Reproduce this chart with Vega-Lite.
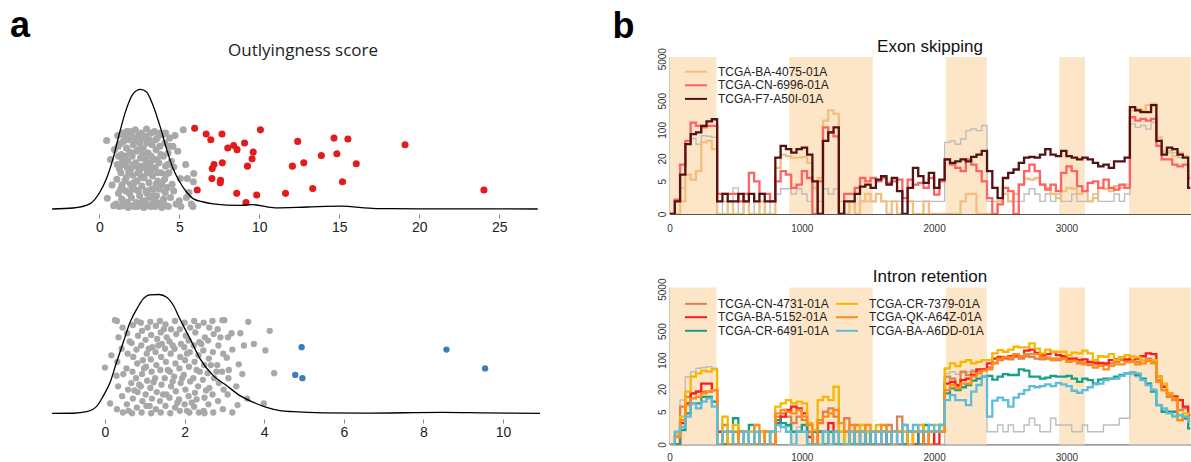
{
"$schema":"https://vega.github.io/schema/vega-lite/v6.json",
"background":"white",
"padding":{"left":10,"top":8,"right":0,"bottom":0},
"config":{"view":{"stroke":null},"font":"Liberation Sans"},
"resolve":{"scale":{"color":"independent"},"legend":{"color":"independent"}},
"spacing":54.5,
"datasets":{
"tlp":[
{"v":0.46,"j":0.89,"g":"n"},{"v":0.5,"j":0.19,"g":"n"},{"v":0.7,"j":0.66,"g":"n"},{"v":0.8,"j":0.35,"g":"n"},{"v":0.9,"j":0.1,"g":"n"},{"v":0.95,"j":0.78,"g":"n"},
{"v":1.05,"j":0.12,"g":"n"},{"v":1.1,"j":0.42,"g":"n"},{"v":1.15,"j":0.95,"g":"n"},{"v":1.12,"j":0.6,"g":"n"},{"v":1.2,"j":0.25,"g":"n"},{"v":1.18,"j":0.82,"g":"n"},{"v":1.25,"j":0.09,"g":"n"},
{"v":1.35,"j":0.5,"g":"n"},{"v":1.4,"j":0.18,"g":"n"},{"v":1.38,"j":0.72,"g":"n"},{"v":1.45,"j":0.98,"g":"n"},{"v":1.42,"j":0.35,"g":"n"},{"v":1.5,"j":0.88,"g":"n"},{"v":1.48,"j":0.1,"g":"n"},{"v":1.52,"j":0.6,"g":"n"},
{"v":1.65,"j":0.28,"g":"n"},{"v":1.7,"j":0.8,"g":"n"},{"v":1.68,"j":0.44,"g":"n"},{"v":1.72,"j":1.0,"g":"n"},{"v":1.75,"j":0.14,"g":"n"},{"v":1.78,"j":0.64,"g":"n"},{"v":1.8,"j":0.08,"g":"n"},{"v":1.82,"j":0.9,"g":"n"},
{"v":1.95,"j":0.36,"g":"n"},{"v":1.98,"j":0.55,"g":"n"},{"v":2.0,"j":0.2,"g":"n"},{"v":2.02,"j":0.95,"g":"n"},{"v":2.05,"j":0.7,"g":"n"},{"v":2.08,"j":0.1,"g":"n"},{"v":2.1,"j":0.47,"g":"n"},{"v":2.12,"j":0.84,"g":"n"},
{"v":2.2,"j":0.3,"g":"n"},{"v":2.25,"j":1.02,"g":"n"},{"v":2.28,"j":0.62,"g":"n"},{"v":2.3,"j":0.14,"g":"n"},{"v":2.32,"j":0.76,"g":"n"},{"v":2.35,"j":0.4,"g":"n"},{"v":2.38,"j":0.92,"g":"n"},{"v":2.4,"j":0.09,"g":"n"},
{"v":2.5,"j":0.52,"g":"n"},{"v":2.52,"j":0.22,"g":"n"},{"v":2.55,"j":0.86,"g":"n"},{"v":2.58,"j":0.68,"g":"n"},{"v":2.6,"j":0.12,"g":"n"},{"v":2.62,"j":0.98,"g":"n"},{"v":2.65,"j":0.34,"g":"n"},{"v":2.68,"j":0.58,"g":"n"},
{"v":2.75,"j":0.8,"g":"n"},{"v":2.78,"j":0.08,"g":"n"},{"v":2.8,"j":0.44,"g":"n"},{"v":2.85,"j":0.16,"g":"n"},{"v":2.88,"j":0.94,"g":"n"},{"v":2.9,"j":0.66,"g":"n"},{"v":2.92,"j":0.28,"g":"n"},{"v":2.95,"j":1.03,"g":"n"},
{"v":3.0,"j":0.5,"g":"n"},{"v":3.02,"j":0.1,"g":"n"},{"v":3.05,"j":0.74,"g":"n"},{"v":3.1,"j":0.38,"g":"n"},{"v":3.12,"j":0.9,"g":"n"},{"v":3.15,"j":0.2,"g":"n"},{"v":3.18,"j":0.6,"g":"n"},{"v":3.2,"j":0.98,"g":"n"},
{"v":3.28,"j":0.12,"g":"n"},{"v":3.3,"j":0.84,"g":"n"},{"v":3.32,"j":0.46,"g":"n"},{"v":3.38,"j":0.66,"g":"n"},{"v":3.4,"j":0.3,"g":"n"},{"v":3.45,"j":1.0,"g":"n"},{"v":3.48,"j":0.09,"g":"n"},{"v":3.5,"j":0.56,"g":"n"},
{"v":3.55,"j":0.78,"g":"n"},{"v":3.58,"j":0.22,"g":"n"},{"v":3.62,"j":0.92,"g":"n"},{"v":3.65,"j":0.4,"g":"n"},{"v":3.7,"j":0.11,"g":"n"},{"v":3.72,"j":0.62,"g":"n"},{"v":3.78,"j":0.82,"g":"n"},{"v":3.8,"j":0.3,"g":"n"},
{"v":3.85,"j":0.5,"g":"n"},{"v":3.9,"j":0.08,"g":"n"},{"v":3.95,"j":0.96,"g":"n"},{"v":4.0,"j":0.7,"g":"n"},{"v":4.02,"j":0.18,"g":"n"},{"v":4.08,"j":0.42,"g":"n"},{"v":4.1,"j":0.86,"g":"n"},{"v":4.15,"j":0.58,"g":"n"},
{"v":4.2,"j":0.1,"g":"n"},{"v":4.25,"j":0.32,"g":"n"},{"v":4.3,"j":0.74,"g":"n"},{"v":4.35,"j":0.5,"g":"n"},{"v":4.4,"j":0.92,"g":"n"},{"v":4.45,"j":0.2,"g":"n"},{"v":4.5,"j":0.64,"g":"n"},
{"v":4.65,"j":0.57,"g":"n"},{"v":4.73,"j":0.95,"g":"n"},{"v":4.65,"j":0.28,"g":"n"},{"v":4.8,"j":0.12,"g":"n"},{"v":5.0,"j":0.16,"g":"n"},{"v":5.07,"j":0.43,"g":"n"},{"v":4.9,"j":0.76,"g":"n"},{"v":5.25,"j":1.02,"g":"n"},{"v":5.1,"j":0.09,"g":"n"},
{"v":5.5,"j":0.43,"g":"n"},{"v":5.6,"j":0.26,"g":"n"},{"v":5.45,"j":0.2,"g":"n"},{"v":5.9,"j":0.49,"g":"n"},{"v":5.88,"j":0.39,"g":"n"},{"v":5.75,"j":0.12,"g":"n"},{"v":5.4,"j":0.6,"g":"n"},{"v":5.85,"j":0.09,"g":"n"},
{"v":1.25,"j":0.55,"g":"n"},{"v":1.3,"j":0.85,"g":"n"},{"v":1.33,"j":0.3,"g":"n"},{"v":1.55,"j":0.15,"g":"n"},{"v":1.6,"j":0.4,"g":"n"},{"v":1.58,"j":0.94,"g":"n"},{"v":1.62,"j":0.7,"g":"n"},{"v":1.85,"j":0.5,"g":"n"},{"v":1.88,"j":0.25,"g":"n"},{"v":1.9,"j":0.75,"g":"n"},{"v":1.92,"j":1.0,"g":"n"},{"v":2.15,"j":0.6,"g":"n"},{"v":2.18,"j":0.09,"g":"n"},{"v":2.18,"j":0.38,"g":"n"},{"v":2.22,"j":0.88,"g":"n"},{"v":2.42,"j":0.5,"g":"n"},{"v":2.44,"j":0.28,"g":"n"},{"v":2.46,"j":0.78,"g":"n"},{"v":2.48,"j":0.96,"g":"n"},{"v":2.7,"j":0.15,"g":"n"},{"v":2.7,"j":0.44,"g":"n"},{"v":2.72,"j":0.72,"g":"n"},{"v":2.72,"j":0.92,"g":"n"},{"v":2.98,"j":0.25,"g":"n"},{"v":2.98,"j":0.62,"g":"n"},{"v":3.0,"j":0.86,"g":"n"},{"v":3.25,"j":0.5,"g":"n"},{"v":3.25,"j":0.3,"g":"n"},{"v":3.24,"j":0.7,"g":"n"},{"v":3.22,"j":0.09,"g":"n"},{"v":3.52,"j":0.15,"g":"n"},{"v":3.55,"j":0.36,"g":"n"},{"v":3.52,"j":0.9,"g":"n"},{"v":3.6,"j":0.66,"g":"n"},{"v":3.82,"j":0.98,"g":"n"},{"v":3.85,"j":0.72,"g":"n"},{"v":3.88,"j":0.14,"g":"n"},{"v":3.9,"j":0.36,"g":"n"},{"v":4.12,"j":0.26,"g":"n"},{"v":4.14,"j":0.98,"g":"n"},{"v":4.18,"j":0.48,"g":"n"},{"v":4.05,"j":0.1,"g":"n"},{"v":2.05,"j":0.32,"g":"n"},{"v":2.35,"j":0.58,"g":"n"},{"v":2.6,"j":0.46,"g":"n"},{"v":2.82,"j":0.56,"g":"n"},{"v":3.08,"j":0.56,"g":"n"},{"v":3.35,"j":0.22,"g":"n"},{"v":3.68,"j":0.5,"g":"n"},{"v":1.75,"j":0.56,"g":"n"},{"v":1.45,"j":0.65,"g":"n"},{"v":1.2,"j":0.7,"g":"n"},{"v":4.32,"j":0.09,"g":"n"},{"v":4.38,"j":0.82,"g":"n"},{"v":4.55,"j":0.36,"g":"n"},{"v":4.6,"j":0.82,"g":"n"},{"v":4.28,"j":0.6,"g":"n"},
{"v":5.96,"j":1.04,"g":"o"},{"v":6.68,"j":0.97,"g":"o"},{"v":6.97,"j":0.9,"g":"o"},{"v":7.67,"j":0.97,"g":"o"},{"v":10.07,"j":1.02,"g":"o"},{"v":8.03,"j":0.8,"g":"o"},{"v":8.4,"j":0.83,"g":"o"},{"v":8.61,"j":0.78,"g":"o"},{"v":9.08,"j":0.86,"g":"o"},{"v":9.62,"j":0.75,"g":"o"},{"v":9.55,"j":0.67,"g":"o"},{"v":9.26,"j":0.58,"g":"o"},{"v":7.69,"j":0.62,"g":"o"},{"v":7.17,"j":0.6,"g":"o"},{"v":7.06,"j":0.55,"g":"o"},{"v":7.04,"j":0.43,"g":"o"},{"v":7.58,"j":0.41,"g":"o"},{"v":7.56,"j":0.38,"g":"o"},{"v":6.12,"j":0.29,"g":"o"},{"v":8.59,"j":0.25,"g":"o"},{"v":9.84,"j":0.23,"g":"o"},{"v":9.17,"j":0.14,"g":"o"},{"v":11.64,"j":0.25,"g":"o"},{"v":12.4,"j":0.88,"g":"o"},{"v":12.07,"j":0.58,"g":"o"},{"v":12.78,"j":0.62,"g":"o"},{"v":13.34,"j":0.31,"g":"o"},{"v":13.88,"j":0.71,"g":"o"},{"v":14.67,"j":0.92,"g":"o"},{"v":14.85,"j":0.73,"g":"o"},{"v":15.54,"j":0.91,"g":"o"},{"v":15.2,"j":0.39,"g":"o"},{"v":16.06,"j":0.61,"g":"o"},{"v":19.11,"j":0.84,"g":"o"},{"v":24.04,"j":0.29,"g":"o"}
],
"tld":[{"v":-2.95,"d":0},{"v":-1.64,"d":0.0025},{"v":-0.59,"d":0.013},{"v":0.04,"d":0.0425},{"v":0.45,"d":0.076},{"v":0.86,"d":0.126},{"v":1.28,"d":0.1925},{"v":1.7,"d":0.251},{"v":2.11,"d":0.288},{"v":2.58,"d":0.299},{"v":2.95,"d":0.2925},{"v":3.36,"d":0.259},{"v":3.78,"d":0.209},{"v":4.2,"d":0.151},{"v":4.61,"d":0.101},{"v":5.03,"d":0.0675},{"v":5.45,"d":0.0425},{"v":5.86,"d":0.026},{"v":6.5,"d":0.0175},{"v":7.1,"d":0.013},{"v":8.8,"d":0.009},{"v":9.5,"d":0.011},{"v":11,"d":0.003},{"v":13,"d":0.005},{"v":15.1,"d":0.007},{"v":17.3,"d":0.001},{"v":20,"d":0.0005},{"v":27.4,"d":0}],
"blp":[
{"v":0.3,"j":0.12,"g":"n"},{"v":0.33,"j":0.4,"g":"n"},{"v":0.31,"j":0.7,"g":"n"},{"v":0.34,"j":1.0,"g":"n"},{"v":0.3,"j":1.2,"g":"n"},
{"v":0.45,"j":0.08,"g":"n"},{"v":0.43,"j":0.28,"g":"n"},{"v":0.46,"j":0.55,"g":"n"},{"v":0.42,"j":0.86,"g":"n"},{"v":0.44,"j":1.12,"g":"n"},
{"v":0.55,"j":0.18,"g":"n"},{"v":0.58,"j":0.36,"g":"n"},{"v":0.54,"j":0.62,"g":"n"},{"v":0.57,"j":0.8,"g":"n"},{"v":0.56,"j":1.05,"g":"n"},{"v":0.59,"j":0.1,"g":"n"},
{"v":0.68,"j":0.07,"g":"n"},{"v":0.7,"j":0.25,"g":"n"},{"v":0.66,"j":0.44,"g":"n"},{"v":0.69,"j":0.58,"g":"n"},{"v":0.71,"j":0.76,"g":"n"},{"v":0.67,"j":0.93,"g":"n"},{"v":0.7,"j":1.15,"g":"n"},
{"v":0.8,"j":0.14,"g":"n"},{"v":0.82,"j":0.33,"g":"n"},{"v":0.78,"j":0.5,"g":"n"},{"v":0.81,"j":0.68,"g":"n"},{"v":0.79,"j":0.85,"g":"n"},{"v":0.83,"j":1.02,"g":"n"},{"v":0.8,"j":1.2,"g":"n"},
{"v":0.92,"j":0.08,"g":"n"},{"v":0.94,"j":0.22,"g":"n"},{"v":0.9,"j":0.4,"g":"n"},{"v":0.93,"j":0.55,"g":"n"},{"v":0.95,"j":0.72,"g":"n"},{"v":0.91,"j":0.9,"g":"n"},{"v":0.93,"j":1.08,"g":"n"},{"v":0.9,"j":1.18,"g":"n"},
{"v":1.04,"j":0.16,"g":"n"},{"v":1.02,"j":0.3,"g":"n"},{"v":1.06,"j":0.47,"g":"n"},{"v":1.03,"j":0.64,"g":"n"},{"v":1.05,"j":0.8,"g":"n"},{"v":1.02,"j":0.97,"g":"n"},{"v":1.07,"j":1.12,"g":"n"},
{"v":1.16,"j":0.07,"g":"n"},{"v":1.18,"j":0.25,"g":"n"},{"v":1.14,"j":0.38,"g":"n"},{"v":1.17,"j":0.58,"g":"n"},{"v":1.15,"j":0.73,"g":"n"},{"v":1.19,"j":0.88,"g":"n"},{"v":1.16,"j":1.03,"g":"n"},{"v":1.14,"j":1.19,"g":"n"},
{"v":1.28,"j":0.12,"g":"n"},{"v":1.3,"j":0.33,"g":"n"},{"v":1.26,"j":0.5,"g":"n"},{"v":1.29,"j":0.66,"g":"n"},{"v":1.27,"j":0.82,"g":"n"},{"v":1.31,"j":0.98,"g":"n"},{"v":1.28,"j":1.14,"g":"n"},
{"v":1.4,"j":0.08,"g":"n"},{"v":1.38,"j":0.22,"g":"n"},{"v":1.42,"j":0.42,"g":"n"},{"v":1.39,"j":0.6,"g":"n"},{"v":1.41,"j":0.76,"g":"n"},{"v":1.43,"j":0.92,"g":"n"},{"v":1.4,"j":1.06,"g":"n"},{"v":1.38,"j":1.2,"g":"n"},
{"v":1.52,"j":0.16,"g":"n"},{"v":1.54,"j":0.3,"g":"n"},{"v":1.5,"j":0.5,"g":"n"},{"v":1.53,"j":0.7,"g":"n"},{"v":1.51,"j":0.86,"g":"n"},{"v":1.55,"j":1.0,"g":"n"},{"v":1.52,"j":1.16,"g":"n"},
{"v":1.64,"j":0.07,"g":"n"},{"v":1.62,"j":0.26,"g":"n"},{"v":1.66,"j":0.4,"g":"n"},{"v":1.63,"j":0.58,"g":"n"},{"v":1.65,"j":0.8,"g":"n"},{"v":1.62,"j":0.95,"g":"n"},{"v":1.66,"j":1.1,"g":"n"},
{"v":1.76,"j":0.14,"g":"n"},{"v":1.78,"j":0.34,"g":"n"},{"v":1.74,"j":0.52,"g":"n"},{"v":1.77,"j":0.68,"g":"n"},{"v":1.75,"j":0.86,"g":"n"},{"v":1.79,"j":1.04,"g":"n"},{"v":1.76,"j":1.2,"g":"n"},
{"v":1.88,"j":0.1,"g":"n"},{"v":1.86,"j":0.24,"g":"n"},{"v":1.9,"j":0.44,"g":"n"},{"v":1.87,"j":0.62,"g":"n"},{"v":1.89,"j":0.76,"g":"n"},{"v":1.91,"j":0.92,"g":"n"},{"v":1.88,"j":1.1,"g":"n"},
{"v":2.0,"j":0.18,"g":"n"},{"v":2.02,"j":0.36,"g":"n"},{"v":1.98,"j":0.54,"g":"n"},{"v":2.01,"j":0.72,"g":"n"},{"v":1.99,"j":0.88,"g":"n"},{"v":2.03,"j":1.02,"g":"n"},{"v":2.0,"j":1.18,"g":"n"},
{"v":2.12,"j":0.08,"g":"n"},{"v":2.1,"j":0.28,"g":"n"},{"v":2.14,"j":0.46,"g":"n"},{"v":2.11,"j":0.64,"g":"n"},{"v":2.13,"j":0.82,"g":"n"},{"v":2.1,"j":0.96,"g":"n"},{"v":2.14,"j":1.12,"g":"n"},
{"v":2.24,"j":0.15,"g":"n"},{"v":2.26,"j":0.32,"g":"n"},{"v":2.22,"j":0.5,"g":"n"},{"v":2.25,"j":0.7,"g":"n"},{"v":2.23,"j":0.9,"g":"n"},{"v":2.27,"j":1.06,"g":"n"},{"v":2.24,"j":1.2,"g":"n"},
{"v":2.36,"j":0.08,"g":"n"},{"v":2.34,"j":0.4,"g":"n"},{"v":2.38,"j":0.58,"g":"n"},{"v":2.35,"j":0.78,"g":"n"},{"v":2.37,"j":0.94,"g":"n"},{"v":2.34,"j":1.14,"g":"n"},
{"v":2.48,"j":0.1,"g":"n"},{"v":2.5,"j":0.26,"g":"n"},{"v":2.46,"j":0.48,"g":"n"},{"v":2.49,"j":0.66,"g":"n"},{"v":2.47,"j":0.84,"g":"n"},{"v":2.51,"j":1.0,"g":"n"},{"v":2.48,"j":1.18,"g":"n"},
{"v":2.6,"j":0.18,"g":"n"},{"v":2.62,"j":0.38,"g":"n"},{"v":2.58,"j":0.56,"g":"n"},{"v":2.61,"j":0.74,"g":"n"},{"v":2.59,"j":0.96,"g":"n"},{"v":2.62,"j":1.12,"g":"n"},
{"v":2.72,"j":0.08,"g":"n"},{"v":2.7,"j":0.3,"g":"n"},{"v":2.74,"j":0.5,"g":"n"},{"v":2.71,"j":0.82,"g":"n"},{"v":2.73,"j":1.04,"g":"n"},{"v":2.7,"j":1.2,"g":"n"},
{"v":2.84,"j":0.22,"g":"n"},{"v":2.86,"j":0.44,"g":"n"},{"v":2.82,"j":0.66,"g":"n"},{"v":2.85,"j":0.9,"g":"n"},{"v":2.83,"j":1.1,"g":"n"},
{"v":2.96,"j":0.12,"g":"n"},{"v":2.98,"j":0.36,"g":"n"},{"v":2.94,"j":0.58,"g":"n"},{"v":2.97,"j":0.8,"g":"n"},{"v":2.95,"j":1.21,"g":"n"},
{"v":3.08,"j":0.3,"g":"n"},{"v":3.1,"j":0.5,"g":"n"},{"v":3.06,"j":0.75,"g":"n"},{"v":3.09,"j":1.0,"g":"n"},
{"v":0.0,"j":0.63,"g":"n"},{"v":0.13,"j":0.19,"g":"n"},{"v":0.16,"j":0.78,"g":"n"},{"v":0.25,"j":1.21,"g":"n"},{"v":0.29,"j":0.53,"g":"n"},{"v":3.0,"j":1.21,"g":"n"},{"v":3.18,"j":1.05,"g":"n"},{"v":3.4,"j":1.05,"g":"n"},{"v":3.6,"j":1.19,"g":"n"},{"v":4.14,"j":1.08,"g":"n"},{"v":3.49,"j":0.9,"g":"n"},{"v":3.74,"j":0.92,"g":"n"},{"v":4.03,"j":0.84,"g":"n"},{"v":4.25,"j":0.56,"g":"n"},{"v":3.36,"j":0.67,"g":"n"},{"v":3.11,"j":0.6,"g":"n"},{"v":3.57,"j":0.25,"g":"n"},{"v":3.99,"j":0.19,"g":"n"},{"v":3.33,"j":0.17,"g":"n"},{"v":3.2,"j":0.08,"g":"n"},{"v":2.5,"j":0.07,"g":"n"},{"v":3.3,"j":0.4,"g":"n"},{"v":3.45,"j":0.55,"g":"n"},{"v":3.2,"j":0.85,"g":"n"},
{"v":0.86,"j":0.42,"g":"n"},{"v":0.98,"j":0.62,"g":"n"},{"v":1.1,"j":0.86,"g":"n"},{"v":1.22,"j":0.45,"g":"n"},{"v":1.34,"j":0.9,"g":"n"},{"v":1.46,"j":0.3,"g":"n"},{"v":1.58,"j":0.6,"g":"n"},{"v":1.7,"j":0.9,"g":"n"},{"v":1.82,"j":0.2,"g":"n"},{"v":1.94,"j":0.5,"g":"n"},{"v":2.06,"j":0.8,"g":"n"},{"v":2.18,"j":0.2,"g":"n"},{"v":2.3,"j":0.6,"g":"n"},{"v":2.42,"j":0.92,"g":"n"},{"v":2.54,"j":0.35,"g":"n"},{"v":1.12,"j":0.16,"g":"n"},{"v":1.48,"j":1.1,"g":"n"},{"v":1.7,"j":0.46,"g":"n"},{"v":2.06,"j":0.1,"g":"n"},{"v":2.3,"j":0.24,"g":"n"},{"v":0.74,"j":0.35,"g":"n"},{"v":0.62,"j":0.95,"g":"n"},{"v":2.66,"j":0.66,"g":"n"},{"v":2.8,"j":0.58,"g":"n"},{"v":2.9,"j":1.0,"g":"n"},
{"v":4.94,"j":0.88,"g":"o"},{"v":4.78,"j":0.54,"g":"o"},{"v":4.96,"j":0.5,"g":"o"},{"v":8.58,"j":0.85,"g":"o"},{"v":9.55,"j":0.62,"g":"o"}
],
"bld":[{"v":-1.33,"d":0},{"v":-0.8,"d":0.0005},{"v":-0.46,"d":0.0057},{"v":-0.21,"d":0.0236},{"v":-0.04,"d":0.0596},{"v":0.13,"d":0.1045},{"v":0.29,"d":0.1719},{"v":0.46,"d":0.2393},{"v":0.63,"d":0.3067},{"v":0.8,"d":0.3518},{"v":0.96,"d":0.3855},{"v":1.13,"d":0.399},{"v":1.36,"d":0.4},{"v":1.55,"d":0.391},{"v":1.72,"d":0.363},{"v":1.88,"d":0.318},{"v":2.14,"d":0.2507},{"v":2.39,"d":0.1833},{"v":2.72,"d":0.127},{"v":3.06,"d":0.0933},{"v":3.39,"d":0.0596},{"v":3.73,"d":0.0371},{"v":4.06,"d":0.0202},{"v":4.4,"d":0.0091},{"v":4.73,"d":0.0057},{"v":5.5,"d":0.0017},{"v":6.5,"d":0.0007},{"v":8.5,"d":0.0034},{"v":9.5,"d":0.002},{"v":10.93,"d":0}],
"shade":[{"s":0,"e":355},{"s":905,"e":1537},{"s":2088,"e":2398},{"s":2946,"e":3141},{"s":3473,"e":3938}],
"nt":[{"k":"a","name":"TCGA-BA-4075-01A"},{"k":"b","name":"TCGA-CN-6996-01A"},{"k":"c","name":"TCGA-F7-A50I-01A"}],
"nb":[{"k":"a","name":"TCGA-CN-4731-01A"},{"k":"b","name":"TCGA-BA-5152-01A"},{"k":"c","name":"TCGA-CR-6491-01A"},{"k":"d","name":"TCGA-CR-7379-01A"},{"k":"e","name":"TCGA-QK-A64Z-01A"},{"k":"f","name":"TCGA-BA-A6DD-01A"}],
"top":[
{"x":0,"a":0,"b":0,"c":0,"g":0},{"x":40,"a":0,"b":1.2,"c":1,"g":0},{"x":80,"a":1,"b":14,"c":7.7,"g":3.2},{"x":120,"a":7.7,"b":54,"c":45,"g":54},{"x":160,"a":5.6,"b":150,"c":79,"g":62},{"x":200,"a":9.5,"b":125,"c":87,"g":45},{"x":240,"a":50,"b":115,"c":125,"g":72},{"x":280,"a":54,"b":125,"c":160,"g":70},{"x":320,"a":34,"b":125,"c":180,"g":66},
{"x":360,"a":0,"b":2,"c":1,"g":0},{"x":400,"a":0,"b":2,"c":2,"g":1},{"x":440,"a":1,"b":2,"c":1,"g":0},{"x":480,"a":0,"b":2,"c":1,"g":3.2},{"x":520,"a":0,"b":1,"c":2,"g":0},{"x":560,"a":1,"b":2,"c":1,"g":1},{"x":600,"a":0,"b":8.5,"c":2,"g":0},{"x":640,"a":0,"b":5,"c":1,"g":1},{"x":680,"a":1,"b":2,"c":2,"g":0},{"x":720,"a":0,"b":2,"c":1,"g":0},{"x":760,"a":0,"b":1,"c":1,"g":1},
{"x":800,"a":11.6,"b":5,"c":21,"g":2},{"x":840,"a":25,"b":9.5,"c":41,"g":3},{"x":880,"a":23,"b":7.7,"c":34,"g":3},{"x":920,"a":21,"b":3.2,"c":28,"g":2},{"x":960,"a":21,"b":4,"c":34,"g":3},{"x":1000,"a":22,"b":9.5,"c":37,"g":2},{"x":1040,"a":15.5,"b":6.2,"c":25,"g":1},{"x":1080,"a":3.2,"b":0,"c":5,"g":0},{"x":1120,"a":6.2,"b":5,"c":0,"g":1},{"x":1160,"a":167,"b":115,"c":54,"g":3},{"x":1200,"a":292,"b":87,"c":87,"g":2},{"x":1240,"a":242,"b":70,"c":115,"g":3},
{"x":1280,"a":0,"b":0,"c":0,"g":1},{"x":1320,"a":0,"b":2,"c":1,"g":1},{"x":1360,"a":1,"b":2,"c":1,"g":1},{"x":1400,"a":0,"b":3.2,"c":2,"g":2},{"x":1440,"a":1,"b":6.2,"c":3.5,"g":1},{"x":1480,"a":2,"b":5,"c":4,"g":1},{"x":1520,"a":1,"b":6.2,"c":3.2,"g":1},{"x":1560,"a":2,"b":5,"c":5.6,"g":2},{"x":1600,"a":1,"b":6.2,"c":7,"g":1},{"x":1640,"a":0,"b":4.5,"c":4,"g":1},{"x":1680,"a":1,"b":5,"c":6.2,"g":1},{"x":1720,"a":0,"b":5.6,"c":2.5,"g":1},{"x":1760,"a":0,"b":1.4,"c":0,"g":1},{"x":1800,"a":1,"b":5.6,"c":3.2,"g":1},{"x":1840,"a":0,"b":4,"c":11.6,"g":1},{"x":1880,"a":0,"b":4.5,"c":7,"g":1},{"x":1920,"a":1,"b":3.2,"c":4.5,"g":0},{"x":1960,"a":0,"b":6.2,"c":8.5,"g":1},{"x":2000,"a":0,"b":1.9,"c":3.2,"g":1},{"x":2040,"a":0,"b":5,"c":5.6,"g":1},
{"x":2080,"a":0,"b":19,"c":19,"g":50},{"x":2120,"a":0,"b":14,"c":15.5,"g":54},{"x":2160,"a":0,"b":11.6,"c":17,"g":45},{"x":2200,"a":1,"b":9.5,"c":19,"g":60},{"x":2240,"a":2,"b":19,"c":17,"g":96},{"x":2280,"a":2,"b":14,"c":22,"g":105},{"x":2320,"a":0,"b":9.5,"c":25,"g":96},{"x":2360,"a":0,"b":5,"c":31,"g":127},
{"x":2400,"a":0,"b":1.4,"c":9.5,"g":1},{"x":2440,"a":0,"b":0,"c":3.2,"g":1},{"x":2480,"a":1,"b":0.7,"c":1.4,"g":1},{"x":2520,"a":2,"b":3.2,"c":6.2,"g":2},{"x":2560,"a":1,"b":2.5,"c":8.5,"g":1},{"x":2600,"a":2,"b":0,"c":10.5,"g":1},{"x":2640,"a":4,"b":4,"c":15.5,"g":1},{"x":2680,"a":6,"b":9.5,"c":21,"g":2},{"x":2720,"a":5.6,"b":14,"c":22,"g":3},{"x":2760,"a":6.2,"b":9.5,"c":21,"g":2},{"x":2800,"a":4,"b":4,"c":25,"g":1},{"x":2840,"a":3.2,"b":2.8,"c":34,"g":2},{"x":2880,"a":2,"b":4,"c":25,"g":1},{"x":2920,"a":1.4,"b":2.5,"c":23,"g":2},{"x":2960,"a":2.5,"b":8.5,"c":31,"g":1},{"x":3000,"a":3.2,"b":12.7,"c":23,"g":1},{"x":3040,"a":3,"b":9.5,"c":21,"g":2},{"x":3080,"a":2,"b":3.6,"c":19,"g":1},{"x":3120,"a":2.5,"b":2.5,"c":21,"g":1},{"x":3160,"a":1,"b":4.5,"c":19,"g":1},{"x":3200,"a":1.4,"b":5,"c":15.5,"g":2},{"x":3240,"a":3.2,"b":3.2,"c":12.7,"g":1},{"x":3280,"a":3,"b":5.6,"c":14,"g":1},{"x":3320,"a":2.5,"b":3.2,"c":11.6,"g":1},{"x":3360,"a":3.6,"b":2.8,"c":17,"g":2},{"x":3400,"a":3.2,"b":4,"c":17,"g":1},{"x":3440,"a":4,"b":3.2,"c":21,"g":2},
{"x":3480,"a":292,"b":201,"c":352,"g":139},{"x":3520,"a":320,"b":167,"c":292,"g":115},{"x":3560,"a":292,"b":184,"c":267,"g":127},{"x":3600,"a":390,"b":167,"c":267,"g":105},{"x":3640,"a":424,"b":184,"c":390,"g":152},{"x":3680,"a":66,"b":41,"c":54,"g":54},{"x":3720,"a":31,"b":19,"c":25,"g":28},{"x":3760,"a":28,"b":19,"c":37,"g":31},{"x":3800,"a":23,"b":14,"c":34,"g":28},{"x":3840,"a":28,"b":12.7,"c":25,"g":21},{"x":3880,"a":23,"b":14,"c":21,"g":23},{"x":3920,"a":9.5,"b":6.2,"c":3.2,"g":7.7},{"x":3938,"a":9.5,"b":6.2,"c":3.2,"g":7.7}
],
"bot":[
{"x":0,"a":0,"b":0,"c":0,"d":0,"e":0,"f":0,"g":0},{"x":40,"a":0,"b":0,"c":0,"d":0.7,"e":0.5,"f":1,"g":0},{"x":80,"a":6.9,"b":2.2,"c":1.2,"d":3.6,"e":2.8,"f":1.6,"g":10.4},{"x":120,"a":12.6,"b":8.5,"c":4.5,"d":17,"e":7.6,"f":3.6,"g":40},{"x":160,"a":15.4,"b":15.4,"c":8.5,"d":40,"e":11.5,"f":8.5,"g":53},{"x":200,"a":17,"b":17,"c":8.5,"d":48,"e":12.6,"f":6.2,"g":64},{"x":240,"a":17,"b":27,"c":12.6,"d":56,"e":15.4,"f":9.4,"g":67},{"x":280,"a":17,"b":27,"c":12.6,"d":53,"e":17,"f":11.5,"g":70},{"x":320,"a":18.7,"b":18.7,"c":9.4,"d":60,"e":18.7,"f":6.9,"g":64},
{"x":360,"a":0,"b":1,"c":0,"d":0,"e":0,"f":0,"g":0},{"x":400,"a":1.9,"b":0,"c":0,"d":3.6,"e":1,"f":1,"g":1},{"x":440,"a":0,"b":0,"c":1,"d":0,"e":1,"f":1,"g":1},{"x":480,"a":1,"b":0,"c":3.2,"d":1.9,"e":0,"f":0,"g":1},{"x":520,"a":0,"b":1,"c":1,"d":0,"e":1,"f":0,"g":0},{"x":560,"a":0,"b":1,"c":0,"d":0,"e":1,"f":1,"g":0},{"x":600,"a":1,"b":0,"c":1.9,"d":1,"e":0,"f":0,"g":1},{"x":640,"a":0,"b":0,"c":0,"d":0,"e":1.9,"f":1,"g":0},{"x":680,"a":0,"b":1,"c":0,"d":1,"e":0,"f":0,"g":0},{"x":720,"a":1,"b":0,"c":0,"d":0,"e":1,"f":0,"g":0},{"x":760,"a":0,"b":0,"c":1,"d":0,"e":0,"f":1,"g":1},
{"x":800,"a":3.6,"b":2.2,"c":2.8,"d":6.9,"e":4.5,"f":1.9,"g":1},{"x":840,"a":4.5,"b":3.6,"c":2.2,"d":8.5,"e":5.6,"f":1.6,"g":2.2},{"x":880,"a":3.6,"b":5.6,"c":1.9,"d":10.4,"e":5,"f":1,"g":1.6},{"x":920,"a":2.2,"b":6.9,"c":1,"d":8.5,"e":4.5,"f":0,"g":1},{"x":960,"a":3.6,"b":6.2,"c":1,"d":9.4,"e":5.6,"f":1,"g":1.6},{"x":1000,"a":2.8,"b":4.5,"c":1.9,"d":8.5,"e":3.6,"f":1,"g":1},{"x":1040,"a":1,"b":0.5,"c":0,"d":2.2,"e":1.9,"f":0,"g":0},{"x":1080,"a":1,"b":0,"c":1,"d":1.2,"e":0,"f":0,"g":0},{"x":1120,"a":2.2,"b":1,"c":1,"d":10.4,"e":2.8,"f":0,"g":1},{"x":1160,"a":5,"b":1,"c":0,"d":12.6,"e":3.6,"f":1,"g":1},{"x":1200,"a":6.2,"b":2.2,"c":1,"d":10.4,"e":4.5,"f":0,"g":1},{"x":1240,"a":3.6,"b":1,"c":0,"d":22.6,"e":5.6,"f":1,"g":1},
{"x":1280,"a":1,"b":0,"c":0,"d":1,"e":2.2,"f":0,"g":0},{"x":1320,"a":3.2,"b":0,"c":1,"d":0,"e":1,"f":0,"g":0},{"x":1360,"a":1,"b":1,"c":0,"d":1,"e":1.9,"f":1,"g":1},{"x":1400,"a":1.9,"b":0,"c":1,"d":1,"e":1,"f":0,"g":0},{"x":1440,"a":1,"b":1,"c":0,"d":1.9,"e":1,"f":1,"g":0},{"x":1480,"a":0,"b":0,"c":1,"d":1,"e":1.9,"f":0,"g":1},{"x":1520,"a":1,"b":1,"c":0,"d":1,"e":1,"f":1,"g":0},{"x":1560,"a":1,"b":0,"c":1,"d":1.9,"e":1,"f":0,"g":0},{"x":1600,"a":0,"b":1,"c":1,"d":1,"e":1.9,"f":1,"g":1},{"x":1640,"a":1.9,"b":0,"c":0,"d":1,"e":1,"f":0,"g":0},{"x":1680,"a":1,"b":1,"c":1,"d":1,"e":0,"f":1,"g":0},{"x":1720,"a":3.6,"b":0,"c":1,"d":1,"e":1,"f":0,"g":1},{"x":1760,"a":1,"b":0,"c":0,"d":1,"e":1.9,"f":1.9,"g":0},{"x":1800,"a":1,"b":1,"c":1,"d":0,"e":1,"f":1,"g":0},{"x":1840,"a":0,"b":0,"c":1,"d":1,"e":1,"f":1.9,"g":1},{"x":1880,"a":1,"b":1,"c":0,"d":1.9,"e":1,"f":1,"g":0},{"x":1920,"a":1,"b":0,"c":1.9,"d":1,"e":0,"f":1,"g":0},{"x":1960,"a":0,"b":1,"c":1,"d":1,"e":1,"f":1.9,"g":1},{"x":2000,"a":1,"b":0,"c":1,"d":1.9,"e":1,"f":1,"g":0},{"x":2040,"a":1,"b":1,"c":1.9,"d":1,"e":1,"f":1.9,"g":0},
{"x":2080,"a":40,"b":27,"c":15.4,"d":64,"e":18.7,"f":10.4,"g":48},{"x":2120,"a":36,"b":30,"c":20.6,"d":84,"e":25,"f":14,"g":53},{"x":2160,"a":22.6,"b":25,"c":18.7,"d":72,"e":20.6,"f":10.4,"g":46},{"x":2200,"a":53,"b":33,"c":22,"d":92,"e":27,"f":10.4,"g":50},{"x":2240,"a":44,"b":36,"c":25,"d":101,"e":27,"f":7.6,"g":53},{"x":2280,"a":53,"b":44,"c":32,"d":84,"e":40,"f":17,"g":58},{"x":2320,"a":53,"b":60,"c":36,"d":92,"e":48,"f":25,"g":60},{"x":2360,"a":58,"b":60,"c":40,"d":101,"e":56,"f":40,"g":62},
{"x":2400,"a":67,"b":84,"c":42,"d":101,"e":60,"f":3.6,"g":1},{"x":2440,"a":84,"b":110,"c":34,"d":146,"e":88,"f":10,"g":1},{"x":2480,"a":101,"b":121,"c":40,"d":175,"e":110,"f":12,"g":1.9},{"x":2520,"a":110,"b":117,"c":46,"d":160,"e":121,"f":10.4,"g":1},{"x":2560,"a":105,"b":125,"c":44,"d":180,"e":117,"f":6.9,"g":1.9},{"x":2600,"a":121,"b":133,"c":44,"d":211,"e":140,"f":12,"g":1},{"x":2640,"a":110,"b":125,"c":60,"d":205,"e":125,"f":15,"g":1},{"x":2680,"a":125,"b":170,"c":56,"d":205,"e":140,"f":18.7,"g":1.9},{"x":2720,"a":121,"b":180,"c":40,"d":253,"e":140,"f":23.5,"g":3.2},{"x":2760,"a":110,"b":150,"c":40,"d":190,"e":140,"f":22,"g":1.9},{"x":2800,"a":105,"b":133,"c":36,"d":146,"e":121,"f":23.5,"g":1},{"x":2840,"a":110,"b":140,"c":38,"d":180,"e":117,"f":26,"g":1},{"x":2880,"a":110,"b":158,"c":42,"d":160,"e":101,"f":23.5,"g":3.2},{"x":2920,"a":101,"b":133,"c":40,"d":160,"e":110,"f":28,"g":1.9},{"x":2960,"a":110,"b":125,"c":40,"d":160,"e":110,"f":26,"g":1.9},{"x":3000,"a":101,"b":110,"c":42,"d":133,"e":92,"f":23.5,"g":1.9},{"x":3040,"a":97,"b":110,"c":36,"d":152,"e":97,"f":18,"g":1},{"x":3080,"a":84,"b":101,"c":30,"d":146,"e":92,"f":16,"g":1},{"x":3120,"a":88,"b":105,"c":36,"d":170,"e":80,"f":18.7,"g":1.9},{"x":3160,"a":76,"b":92,"c":33,"d":146,"e":80,"f":22,"g":1},{"x":3200,"a":80,"b":88,"c":27,"d":101,"e":67,"f":26,"g":1},{"x":3240,"a":88,"b":84,"c":34,"d":125,"e":73,"f":27,"g":1},{"x":3280,"a":76,"b":84,"c":36,"d":121,"e":60,"f":33,"g":1.9},{"x":3320,"a":84,"b":101,"c":36,"d":140,"e":73,"f":36,"g":1.9},{"x":3360,"a":92,"b":105,"c":40,"d":101,"e":80,"f":36,"g":1.9},{"x":3400,"a":101,"b":117,"c":44,"d":117,"e":80,"f":42,"g":3.2},{"x":3440,"a":97,"b":105,"c":48,"d":133,"e":90,"f":48,"g":3.2},
{"x":3480,"a":101,"b":121,"c":50,"d":121,"e":92,"f":50,"g":45},{"x":3520,"a":92,"b":110,"c":44,"d":117,"e":80,"f":48,"g":40},{"x":3560,"a":101,"b":125,"c":36,"d":101,"e":84,"f":33,"g":35},{"x":3600,"a":110,"b":146,"c":27,"d":97,"e":97,"f":25,"g":28},{"x":3640,"a":92,"b":140,"c":17,"d":101,"e":84,"f":18.7,"g":20},{"x":3680,"a":33,"b":40,"c":7.6,"d":40,"e":30,"f":7.6,"g":8},{"x":3720,"a":18.7,"b":22.6,"c":5,"d":27,"e":18.7,"f":6.2,"g":6},{"x":3760,"a":12.6,"b":15.4,"c":5,"d":15.4,"e":14,"f":4.5,"g":5},{"x":3800,"a":10.4,"b":13,"c":5,"d":11.5,"e":10.8,"f":3.6,"g":4},{"x":3840,"a":5.6,"b":10.4,"c":4,"d":2.8,"e":2.8,"f":4,"g":4},{"x":3880,"a":6.2,"b":6.9,"c":3.2,"d":4.5,"e":3.6,"f":3.6,"g":3},{"x":3920,"a":4,"b":4,"c":1.4,"d":3.6,"e":3.2,"f":2.5,"g":2},{"x":3938,"a":4,"b":4,"c":1.4,"d":3.6,"e":3.2,"f":2.5,"g":2}
]
},
"hconcat":[
{
"title":{"text":"a","anchor":"start","frame":"group","fontSize":36,"fontWeight":"bold","font":"Liberation Sans","color":"#000","dx":-38,"offset":-3.4,"baseline":"top"},
"spacing":56,
"resolve":{"scale":{"color":"independent"},"legend":{"color":"independent"}},
"vconcat":[
{
"width":510,"height":157,
"title":{"text":"Outlyingness score","font":"Open Sans","fontSize":17,"fontWeight":"normal","color":"#222","offset":-2.87,"baseline":"top","frame":"group"},
"resolve":{"scale":{"y":"independent"}},
"layer":[
{"mark":{"type":"rule","color":"#bdbdbd","strokeWidth":1.5},"encoding":{"x":{"datum":5.9,"type":"quantitative","scale":{"domain":[-3.206,28.67],"nice":false,"zero":false},"axis":{"values":[0,5,10,15,20,25],"domain":false,"grid":false,"tickSize":4,"tickColor":"#888","labelFontSize":14,"labelColor":"#222","labelPadding":2,"title":null,"labelFlush":false}},"y":{"datum":0,"type":"quantitative","scale":{"domain":[0,1.903],"nice":false,"zero":false},"axis":null},"y2":{"datum":1.564}}},
{"data":{"name":"tlp"},"mark":{"type":"circle","size":50,"opacity":1},"encoding":{"x":{"field":"v","type":"quantitative","scale":{"domain":[-3.206,28.67],"nice":false,"zero":false},"axis":{"values":[0,5,10,15,20,25],"domain":false,"grid":false,"tickSize":4,"tickColor":"#888","labelFontSize":14,"labelColor":"#222","labelPadding":2,"title":null,"labelFlush":false}},"y":{"field":"j","type":"quantitative","scale":{"domain":[0,1.903],"nice":false,"zero":false},"axis":null},"color":{"field":"g","type":"nominal","scale":{"domain":["n","o"],"range":["#A8A8A8","#E41A1C"]},"legend":null}}},
{"data":{"name":"tld"},"mark":{"type":"line","color":"#000","strokeWidth":1.3,"interpolate":"monotone"},"encoding":{"x":{"field":"v","type":"quantitative","scale":{"domain":[-3.206,28.67],"nice":false,"zero":false},"axis":{"values":[0,5,10,15,20,25],"domain":false,"grid":false,"tickSize":4,"tickColor":"#888","labelFontSize":14,"labelColor":"#222","labelPadding":2,"title":null,"labelFlush":false}},"y":{"field":"d","type":"quantitative","scale":{"domain":[-0.0125,0.38],"nice":false,"zero":false},"axis":null}}},
{"mark":{"type":"rule","color":"#8c8c8c","strokeWidth":1},"encoding":{"x":{"datum":0,"type":"quantitative","scale":{"domain":[-3.206,28.67],"nice":false,"zero":false},"axis":{"values":[0,5,10,15,20,25],"domain":false,"grid":false,"tickSize":4,"tickColor":"#888","labelFontSize":14,"labelColor":"#222","labelPadding":2,"title":null,"labelFlush":false}},"x2":{"datum":28.67},"y":{"datum":0,"type":"quantitative","scale":{"domain":[0,1.903],"nice":false,"zero":false},"axis":null}}},
{"mark":{"type":"text","fontSize":17.5,"font":"Liberation Sans","color":"#111","align":"center","baseline":"middle"},"encoding":{"x":{"datum":20.1,"type":"quantitative","scale":{"domain":[-3.206,28.67],"nice":false,"zero":false},"axis":{"values":[0,5,10,15,20,25],"domain":false,"grid":false,"tickSize":4,"tickColor":"#888","labelFontSize":14,"labelColor":"#222","labelPadding":2,"title":null,"labelFlush":false}},"y":{"datum":1.224,"type":"quantitative","scale":{"domain":[0,1.903],"nice":false,"zero":false},"axis":null},"text":{"value":"Number of GSCs = 35"}}}
]
},
{
"width":510,"height":129,
"resolve":{"scale":{"y":"independent"}},
"layer":[
{"mark":{"type":"rule","color":"#bdbdbd","strokeWidth":1.5},"encoding":{"x":{"datum":4.59,"type":"quantitative","scale":{"domain":[-1.432,11.382],"nice":false,"zero":false},"axis":{"values":[0,2,4,6,8,10],"domain":false,"grid":false,"tickSize":4,"tickColor":"#888","labelFontSize":14,"labelColor":"#222","labelPadding":2,"title":null,"labelFlush":false}}}},
{"data":{"name":"blp"},"mark":{"type":"circle","size":40,"opacity":1},"encoding":{"x":{"field":"v","type":"quantitative","scale":{"domain":[-1.432,11.382],"nice":false,"zero":false},"axis":{"values":[0,2,4,6,8,10],"domain":false,"grid":false,"tickSize":4,"tickColor":"#888","labelFontSize":14,"labelColor":"#222","labelPadding":2,"title":null,"labelFlush":false}},"y":{"field":"j","type":"quantitative","scale":{"domain":[0,1.58],"nice":false,"zero":false},"axis":null},"color":{"field":"g","type":"nominal","scale":{"domain":["n","o"],"range":["#A8A8A8","#3A7DB8"]},"legend":null}}},
{"data":{"name":"bld"},"mark":{"type":"line","color":"#000","strokeWidth":1.3,"interpolate":"monotone"},"encoding":{"x":{"field":"v","type":"quantitative","scale":{"domain":[-1.432,11.382],"nice":false,"zero":false},"axis":{"values":[0,2,4,6,8,10],"domain":false,"grid":false,"tickSize":4,"tickColor":"#888","labelFontSize":14,"labelColor":"#222","labelPadding":2,"title":null,"labelFlush":false}},"y":{"field":"d","type":"quantitative","scale":{"domain":[-0.0189,0.4152],"nice":false,"zero":false},"axis":null}}},
{"mark":{"type":"rule","color":"#8c8c8c","strokeWidth":1},"encoding":{"x":{"datum":0,"type":"quantitative","scale":{"domain":[-1.432,11.382],"nice":false,"zero":false},"axis":{"values":[0,2,4,6,8,10],"domain":false,"grid":false,"tickSize":4,"tickColor":"#888","labelFontSize":14,"labelColor":"#222","labelPadding":2,"title":null,"labelFlush":false}},"x2":{"datum":11.382},"y":{"datum":0,"type":"quantitative","scale":{"domain":[0,1.58],"nice":false,"zero":false},"axis":null}}},
{"mark":{"type":"text","fontSize":17.5,"font":"Liberation Sans","color":"#111","align":"center","baseline":"middle"},"encoding":{"x":{"datum":7.834,"type":"quantitative","scale":{"domain":[-1.432,11.382],"nice":false,"zero":false},"axis":{"values":[0,2,4,6,8,10],"domain":false,"grid":false,"tickSize":4,"tickColor":"#888","labelFontSize":14,"labelColor":"#222","labelPadding":2,"title":null,"labelFlush":false}},"y":{"datum":1.231,"type":"quantitative","scale":{"domain":[0,1.58],"nice":false,"zero":false},"axis":null},"text":{"value":"Number of LSCs = 5"}}}
]
}
]
},
{
"title":{"text":"b","anchor":"start","frame":"group","fontSize":36,"fontWeight":"bold","font":"Liberation Sans","color":"#000","dx":-57,"offset":-7.3,"baseline":"top"},
"spacing":33.4,
"resolve":{"scale":{"color":"independent"},"legend":{"color":"independent"}},
"vconcat":[
{
"width":521,"height":157,
"title":{"text":"Exon skipping","font":"Liberation Sans","fontSize":17,"fontWeight":"normal","color":"#111","offset":-8.67,"baseline":"top","frame":"group"},
"layer":[
{"data":{"name":"shade"},"mark":{"type":"rect","color":"#FDE6C7"},"encoding":{"x":{"field":"s","type":"quantitative","scale":{"domain":[0,3938],"nice":false,"zero":false},"axis":{"values":[0,1000,2000,3000],"format":"d","domain":true,"domainColor":"#555","grid":false,"ticks":false,"labelFontSize":10,"labelColor":"#333","labelPadding":9.5,"title":null,"labelFlush":false}},"x2":{"field":"e"}}},
{"mark":{"type":"rule","color":"#EF5B5B","strokeWidth":1},"encoding":{"x":{"datum":2088,"type":"quantitative","scale":{"domain":[0,3938],"nice":false,"zero":false},"axis":{"values":[0,1000,2000,3000],"format":"d","domain":true,"domainColor":"#555","grid":false,"ticks":false,"labelFontSize":10,"labelColor":"#333","labelPadding":9.5,"title":null,"labelFlush":false}}}},
{"data":{"name":"top"},"mark":{"type":"line","color":"#BDBDBD","strokeWidth":1.4,"interpolate":"step-after","clip":true},"encoding":{"x":{"field":"x","type":"quantitative","scale":{"domain":[0,3938],"nice":false,"zero":false},"axis":{"values":[0,1000,2000,3000],"format":"d","domain":true,"domainColor":"#555","grid":false,"ticks":false,"labelFontSize":10,"labelColor":"#333","labelPadding":9.5,"title":null,"labelFlush":false}},"y":{"field":"g","type":"quantitative","scale":{"type":"symlog","constant":1,"domain":[0,5500],"nice":false,"zero":false},"axis":{"values":[0,5,20,100,500,5000],"format":"d","domain":true,"domainColor":"#555","grid":false,"ticks":false,"labelAngle":-90,"labelAlign":"center","labelBaseline":"bottom","labelFontSize":10,"labelColor":"#333","labelPadding":2,"title":null,"labelOverlap":false,"labelFlush":false}}}},
{"data":{"name":"top"},"transform":[{"fold":["a","b","c"],"as":["k","val"]},{"lookup":"k","from":{"data":{"name":"nt"},"key":"k","fields":["name"]}}],"mark":{"type":"line","strokeWidth":2.3,"interpolate":"step-after","clip":true},"encoding":{"x":{"field":"x","type":"quantitative","scale":{"domain":[0,3938],"nice":false,"zero":false},"axis":{"values":[0,1000,2000,3000],"format":"d","domain":true,"domainColor":"#555","grid":false,"ticks":false,"labelFontSize":10,"labelColor":"#333","labelPadding":9.5,"title":null,"labelFlush":false}},"y":{"field":"val","type":"quantitative","scale":{"type":"symlog","constant":1,"domain":[0,5500],"nice":false,"zero":false},"axis":{"values":[0,5,20,100,500,5000],"format":"d","domain":true,"domainColor":"#555","grid":false,"ticks":false,"labelAngle":-90,"labelAlign":"center","labelBaseline":"bottom","labelFontSize":10,"labelColor":"#333","labelPadding":2,"title":null,"labelOverlap":false,"labelFlush":false}},"color":{"field":"name","type":"nominal","scale":{"domain":["TCGA-BA-4075-01A","TCGA-CN-6996-01A","TCGA-F7-A50I-01A"],"range":["#F2BF80","#FF6262","#541212"]},"legend":{"orient":"none","legendX":20,"legendY":8.2,"title":null,"symbolType":"M-2,0H2","symbolSize":121,"symbolStrokeWidth":2,"labelFont":"Liberation Sans","labelFontSize":12,"labelColor":"#222","rowPadding":0.6,"labelOffset":15.5,"padding":0}}}},
{"mark":{"type":"rule","color":"#555","strokeWidth":1},"encoding":{"y":{"datum":5500,"type":"quantitative","scale":{"type":"symlog","constant":1,"domain":[0,5500],"nice":false,"zero":false},"axis":{"values":[0,5,20,100,500,5000],"format":"d","domain":true,"domainColor":"#555","grid":false,"ticks":false,"labelAngle":-90,"labelAlign":"center","labelBaseline":"bottom","labelFontSize":10,"labelColor":"#333","labelPadding":2,"title":null,"labelOverlap":false,"labelFlush":false}}}}
]
},
{
"width":521,"height":157,
"title":{"text":"Intron retention","font":"Liberation Sans","fontSize":17,"fontWeight":"normal","color":"#111","offset":-7.97,"baseline":"top","frame":"group"},
"layer":[
{"data":{"name":"shade"},"mark":{"type":"rect","color":"#FDE6C7"},"encoding":{"x":{"field":"s","type":"quantitative","scale":{"domain":[0,3938],"nice":false,"zero":false},"axis":{"values":[0,1000,2000,3000],"format":"d","domain":true,"domainColor":"#555","grid":false,"ticks":false,"labelFontSize":10,"labelColor":"#333","labelPadding":8.5,"title":null,"labelFlush":false}},"x2":{"field":"e"}}},
{"mark":{"type":"rule","color":"#EF5B5B","strokeWidth":1},"encoding":{"x":{"datum":3475,"type":"quantitative","scale":{"domain":[0,3938],"nice":false,"zero":false},"axis":{"values":[0,1000,2000,3000],"format":"d","domain":true,"domainColor":"#555","grid":false,"ticks":false,"labelFontSize":10,"labelColor":"#333","labelPadding":8.5,"title":null,"labelFlush":false}}}},
{"data":{"name":"bot"},"mark":{"type":"line","color":"#BDBDBD","strokeWidth":1.4,"interpolate":"step-after","clip":true},"encoding":{"x":{"field":"x","type":"quantitative","scale":{"domain":[0,3938],"nice":false,"zero":false},"axis":{"values":[0,1000,2000,3000],"format":"d","domain":true,"domainColor":"#555","grid":false,"ticks":false,"labelFontSize":10,"labelColor":"#333","labelPadding":8.5,"title":null,"labelFlush":false}},"y":{"field":"g","type":"quantitative","scale":{"type":"symlog","constant":1,"domain":[0,5500],"nice":false,"zero":false},"axis":{"values":[0,5,20,100,500,5000],"format":"d","domain":true,"domainColor":"#555","grid":false,"ticks":false,"labelAngle":-90,"labelAlign":"center","labelBaseline":"bottom","labelFontSize":10,"labelColor":"#333","labelPadding":2,"title":null,"labelOverlap":false,"labelFlush":false}}}},
{"data":{"name":"bot"},"transform":[{"fold":["a","b","c","d","e","f"],"as":["k","val"]},{"lookup":"k","from":{"data":{"name":"nb"},"key":"k","fields":["name"]}}],"mark":{"type":"line","strokeWidth":2.3,"interpolate":"step-after","clip":true},"encoding":{"x":{"field":"x","type":"quantitative","scale":{"domain":[0,3938],"nice":false,"zero":false},"axis":{"values":[0,1000,2000,3000],"format":"d","domain":true,"domainColor":"#555","grid":false,"ticks":false,"labelFontSize":10,"labelColor":"#333","labelPadding":8.5,"title":null,"labelFlush":false}},"y":{"field":"val","type":"quantitative","scale":{"type":"symlog","constant":1,"domain":[0,5500],"nice":false,"zero":false},"axis":{"values":[0,5,20,100,500,5000],"format":"d","domain":true,"domainColor":"#555","grid":false,"ticks":false,"labelAngle":-90,"labelAlign":"center","labelBaseline":"bottom","labelFontSize":10,"labelColor":"#333","labelPadding":2,"title":null,"labelOverlap":false,"labelFlush":false}},"color":{"field":"name","type":"nominal","scale":{"domain":["TCGA-CN-4731-01A","TCGA-BA-5152-01A","TCGA-CR-6491-01A","TCGA-CR-7379-01A","TCGA-QK-A64Z-01A","TCGA-BA-A6DD-01A"],"range":["#E0804F","#FF1A1A","#16A085","#F5B700","#FF8C1A","#5CBDDA"]},"legend":{"orient":"none","legendX":20,"legendY":9.7,"columns":2,"columnPadding":2,"title":null,"symbolType":"M-2,0H2","symbolSize":121,"symbolStrokeWidth":2,"labelFont":"Liberation Sans","labelFontSize":12,"labelColor":"#222","rowPadding":0.6,"labelOffset":15.5,"padding":0}}}},
{"mark":{"type":"rule","color":"#555","strokeWidth":1},"encoding":{"y":{"datum":5500,"type":"quantitative","scale":{"type":"symlog","constant":1,"domain":[0,5500],"nice":false,"zero":false},"axis":{"values":[0,5,20,100,500,5000],"format":"d","domain":true,"domainColor":"#555","grid":false,"ticks":false,"labelAngle":-90,"labelAlign":"center","labelBaseline":"bottom","labelFontSize":10,"labelColor":"#333","labelPadding":2,"title":null,"labelOverlap":false,"labelFlush":false}}}}
]
}
]
}
]
}
